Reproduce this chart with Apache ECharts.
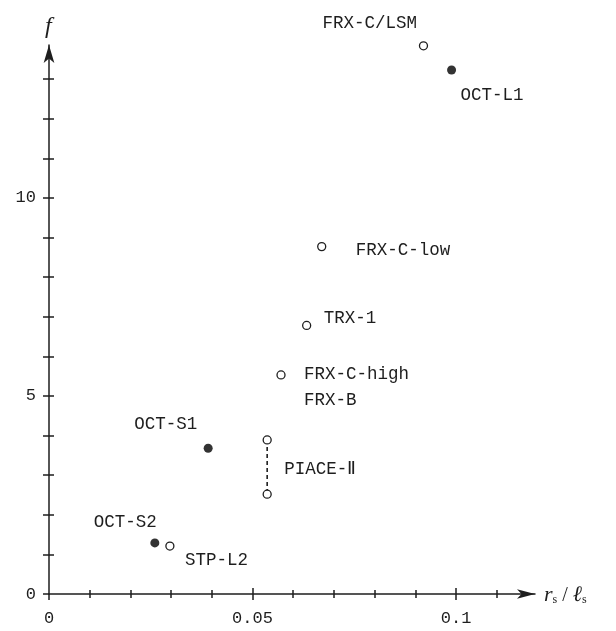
<!DOCTYPE html>
<html>
<head>
<meta charset="utf-8">
<script src="https://cdn.jsdelivr.net/npm/echarts@6/dist/echarts.min.js"></script>
<style>
html,body{margin:0;padding:0;background:#fff;}
#chart{width:616px;height:631px;}
</style>
</head>
<body>
<div id="chart"></div>
<script>
// ---- data ----
const pointNames = ['FRX-C/LSM','OCT-L1','FRX-C-low','TRX-1','FRX-C-high','OCT-S1','PIACE-Ⅱ upper','PIACE-Ⅱ lower','OCT-S2','STP-L2'];
const xValues    = [0.0920, 0.0989, 0.0670, 0.0633, 0.0570, 0.0391, 0.0536, 0.0536, 0.0260, 0.0297];
const fValues    = [13.84, 13.23, 8.77, 6.78, 5.53, 3.68, 3.89, 2.52, 1.29, 1.21];
const filledFlag = [false, true, false, false, false, true, false, false, true, false];
const labelTexts = ['FRX-C/LSM','OCT-L1','FRX-C-low','TRX-1','FRX-C-high\nFRX-B','OCT-S1','PIACE-Ⅱ','','OCT-S2','STP-L2'];
const rangeLink  = [6, 7]; // indices joined by the dashed line (PIACE-Ⅱ)

const xTickLabels = [0, 0.05, 0.1];
const xMinorTicks = [0.01, 0.02, 0.03, 0.04, 0.06, 0.07, 0.08, 0.09, 0.11];
const xMajorTicks = [0, 0.05, 0.1];
const yTickLabels = [0, 5, 10];
const yTicks      = [1, 2, 3, 4, 5, 6, 7, 8, 9, 10, 11, 12, 13];
const xMax = 0.1194, yMax = 13.86;

// ---- label placement (layout only) ----
const labelOffsets = {
  'FRX-C/LSM': [-101, -22],
  'OCT-L1': [9, 25],
  'FRX-C-low': [34, 4],
  'TRX-1': [17, -7],
  'FRX-C-high': [23, 12],
  'OCT-S1': [-74, -24],
  'PIACE-Ⅱ upper': [17, 29],
  'OCT-S2': [-61, -21],
  'STP-L2': [15, 14]
};

const INK = '#1e1e1e';
const MONO = "'Liberation Mono', 'DejaVu Sans Mono', monospace";

function makeItem(i) {
  const off = labelOffsets[pointNames[i]] || [0, 0];
  return {
    name: pointNames[i],
    value: [xValues[i], fValues[i]],
    label: {
      show: labelTexts[i] !== '',
      formatter: labelTexts[i],
      position: 'inside',
      align: 'left',
      verticalAlign: 'middle',
      offset: off,
      color: INK,
      fontFamily: MONO,
      fontSize: 17.5,
      lineHeight: 26
    }
  };
}
const openData = [], filledData = [];
pointNames.forEach((n, i) => { (filledFlag[i] ? filledData : openData).push(makeItem(i)); });

const axisBaseX = { type: 'value', min: 0, max: xMax, position: 'bottom', splitLine: { show: false } };
const axisBaseY = { type: 'value', min: 0, max: yMax, position: 'left', splitLine: { show: false } };
const lineStyle = { color: INK, width: 1.5 };

const option = {
  backgroundColor: '#ffffff',
  animation: false,
  grid: { left: 49, right: 81, top: 45, bottom: 37, containLabel: false, outerBoundsMode: 'none' },
  xAxis: [
    Object.assign({}, axisBaseX, {
      axisLine: { show: true, onZero: false, symbol: ['none', 'arrow'], symbolSize: [7, 18], lineStyle: lineStyle },
      axisTick: { show: true, inside: false, length: 4, customValues: xMinorTicks, lineStyle: lineStyle },
      axisLabel: { show: true, customValues: xTickLabels, margin: 16, color: INK, fontFamily: MONO, fontSize: 17,
                   formatter: v => String(v) },
      name: '{it|r}{sub|s}{n| / }{it|ℓ}{sub|s}',
      nameLocation: 'end',
      nameGap: 9,
      nameTextStyle: {
        color: INK,
        rich: {
          it: { fontFamily: "'Liberation Serif', serif", fontStyle: 'italic', fontSize: 22, color: INK, lineHeight: 24, verticalAlign: 'bottom' },
          sub: { fontFamily: "'Liberation Serif', serif", fontSize: 12, color: INK, lineHeight: 18, verticalAlign: 'bottom' },
          n: { fontFamily: "'Liberation Serif', serif", fontSize: 20, color: INK, lineHeight: 24, verticalAlign: 'bottom' }
        }
      }
    }),
    Object.assign({}, axisBaseX, {
      axisLine: { show: false, onZero: false },
      axisTick: { show: true, inside: true, length: 4, customValues: xMinorTicks, lineStyle: lineStyle },
      axisLabel: { show: false }
    }),
    Object.assign({}, axisBaseX, {
      axisLine: { show: false, onZero: false },
      axisTick: { show: true, inside: false, length: 6, customValues: xMajorTicks, lineStyle: lineStyle },
      axisLabel: { show: false }
    }),
    Object.assign({}, axisBaseX, {
      axisLine: { show: false, onZero: false },
      axisTick: { show: true, inside: true, length: 6, customValues: xMajorTicks.slice(1), lineStyle: lineStyle },
      axisLabel: { show: false }
    })
  ],
  yAxis: [
    Object.assign({}, axisBaseY, {
      axisLine: { show: true, onZero: false, symbol: ['none', 'arrow'], symbolSize: [8, 18], lineStyle: lineStyle },
      axisTick: { show: true, inside: false, length: 6, customValues: [0].concat(yTicks), lineStyle: lineStyle },
      axisLabel: { show: true, customValues: yTickLabels, margin: 13, color: INK, fontFamily: MONO, fontSize: 17 },
      name: 'f',
      nameLocation: 'end',
      nameGap: 6,
      nameTextStyle: { fontFamily: "'Liberation Serif', serif", fontStyle: 'italic', fontSize: 24, color: INK, align: 'left', padding: [0, 0, 0, -4] }
    }),
    Object.assign({}, axisBaseY, {
      axisLine: { show: false, onZero: false },
      axisTick: { show: true, inside: true, length: 5, customValues: yTicks, lineStyle: lineStyle },
      axisLabel: { show: false }
    })
  ],
  series: [
    {
      type: 'line',
      xAxisIndex: 0, yAxisIndex: 0,
      data: rangeLink.map(i => [xValues[i], fValues[i]]),
      symbol: 'none',
      lineStyle: { color: INK, width: 1.6, type: [4, 3] },
      z: 1,
      silent: true
    },
    {
      type: 'scatter',
      xAxisIndex: 0, yAxisIndex: 0,
      data: openData,
      symbol: 'circle',
      symbolSize: 8,
      clip: false,
      itemStyle: { color: '#ffffff', borderColor: INK, borderWidth: 1.3, opacity: 1 },
      z: 3
    },
    {
      type: 'scatter',
      xAxisIndex: 0, yAxisIndex: 0,
      data: filledData,
      symbol: 'circle',
      symbolSize: 9,
      clip: false,
      itemStyle: { color: '#333333', opacity: 1 },
      z: 3
    }
  ]
};

const chart = echarts.init(document.getElementById('chart'), null, { renderer: 'canvas' });
chart.setOption(option);
</script>
</body>
</html>
